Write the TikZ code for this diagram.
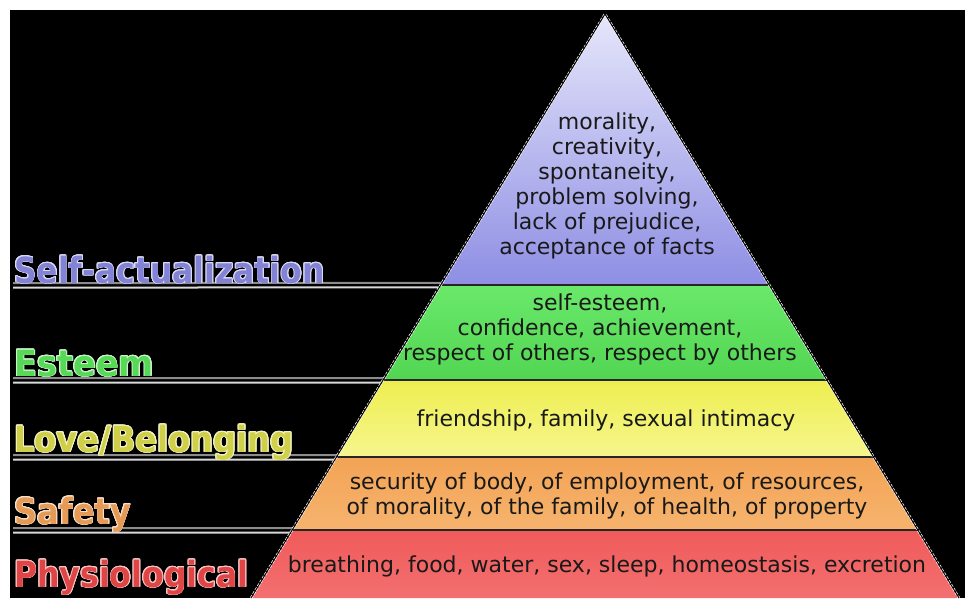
\documentclass[tikz,border=0pt]{standalone}
\usepackage{fontspec}
\setmainfont{DejaVu Sans}
\usepackage[copies]{contour}
\usetikzlibrary{calc}
\definecolor{lavtop}{HTML}{E6E6FB}
\definecolor{lavbot}{HTML}{8E8EE4}
\definecolor{greentop}{HTML}{6AE86A}
\definecolor{greenbot}{HTML}{52D652}
\definecolor{yeltop}{HTML}{EEEE50}
\definecolor{yelbot}{HTML}{F6F68E}
\definecolor{orgtop}{HTML}{F3A455}
\definecolor{orgbot}{HTML}{F6B36E}
\definecolor{redtop}{HTML}{F05A5A}
\definecolor{redbot}{HTML}{F37070}
\definecolor{cAct}{HTML}{8383D6}
\definecolor{cEst}{HTML}{57D957}
\definecolor{cLove}{HTML}{D0D048}
\definecolor{cSaf}{HTML}{E59A55}
\definecolor{cPhy}{HTML}{E04545}
\contourlength{0.9pt}
\tikzset{
  layertext/.style={align=center, text=black!90, font=\fontsize{22}{25}\selectfont},
  lbl/.style={anchor=base west, inner sep=0pt, font=\fontsize{36}{36}\selectfont\bfseries},
  sepline/.style={draw=black!85, line width=1.3pt},
  edgehalo/.style={draw=white, line width=2.4pt, dash pattern=on 3pt off 1.5pt},
  edgeline/.style={draw=black, line width=1pt},
  lineA/.style={draw=black!45, line width=2pt},
  lineB/.style={draw=black!15, line width=2pt}
}
\begin{document}
\begin{tikzpicture}[x=1pt,y=-1pt]
\useasboundingbox (0,0) rectangle (965,598);
\fill[white] (0,0) rectangle (965,598);
\fill[black] (10,10) rectangle (965,598);

\coordinate (A) at (605,14);
\coordinate (BL) at (251,598);
\coordinate (BR) at (959,598);
\coordinate (L1) at ($(A)!0.4640!(BL)$);
\coordinate (R1) at ($(A)!0.4640!(BR)$);
\coordinate (L2) at ($(A)!0.6267!(BL)$);
\coordinate (R2) at ($(A)!0.6267!(BR)$);
\coordinate (L3) at ($(A)!0.7586!(BL)$);
\coordinate (R3) at ($(A)!0.7586!(BR)$);
\coordinate (L4) at ($(A)!0.8836!(BL)$);
\coordinate (R4) at ($(A)!0.8836!(BR)$);

% label underlines
\coordinate (s1) at (13,285);
\coordinate (s2) at (13,380);
\coordinate (s3) at (13,457);
\coordinate (s4) at (13,530);
\foreach \s/\l in {s1/L1,s2/L2,s3/L3,s4/L4}{
  \draw[lineA] ([yshift=2pt]\s) -- ([xshift=4pt,yshift=2pt]\l);
  \draw[lineB] ([yshift=-2.5pt]\s) -- ([xshift=4pt,yshift=-2.5pt]\l);
}

% layers
\shade[top color=lavtop, bottom color=lavbot] (A) -- (R1) -- (L1) -- cycle;
\shade[top color=greentop, bottom color=greenbot] (L1) -- (R1) -- (R2) -- (L2) -- cycle;
\shade[top color=yeltop, bottom color=yelbot] (L2) -- (R2) -- (R3) -- (L3) -- cycle;
\shade[top color=orgtop, bottom color=orgbot] (L3) -- (R3) -- (R4) -- (L4) -- cycle;
\shade[top color=redtop, bottom color=redbot] (L4) -- (R4) -- (BR) -- (BL) -- cycle;

\draw[sepline] (L1) -- (R1);
\draw[sepline] (L2) -- (R2);
\draw[sepline] (L3) -- (R3);
\draw[sepline] (L4) -- (R4);

\draw[edgehalo] (BL) -- (A) -- (BR);
\draw[edgeline] (BL) -- (A) -- (BR);

% texts in the pyramid
\node[layertext] (t1) at (607,186) {morality,\\creativity,\\spontaneity,\\problem solving,\\lack of prejudice,\\acceptance of facts};
\node[layertext] (t2) at (600,329) {self-esteem,\\confidence, achievement,\\respect of others, respect by others};
\node[layertext] (t3) at (606,420) {friendship, family, sexual intimacy};
\node[layertext] (t4) at (607,496) {security of body, of employment, of resources,\\of morality, of the family, of health, of property};
\node[layertext] (t5) at (607,566) {breathing, food, water, sex, sleep, homeostasis, excretion};

% level labels
\node[lbl, text=cAct] (n1) at (14,283) {\scalebox{0.874}[1]{\contour{white!70!cAct}{Self-actualization}}};
\node[lbl, text=cEst] (n2) at (14,376) {\scalebox{0.934}[1]{\contour{white!70!cEst}{Esteem}}};
\node[lbl, text=cLove] (n3) at (14,452) {\scalebox{0.893}[1]{\contour{white!70!cLove}{Love/Belonging}}};
\node[lbl, text=cSaf] (n4) at (14,524) {\scalebox{0.893}[1]{\contour{white!70!cSaf}{Safety}}};
\node[lbl, text=cPhy] (n5) at (14,587) {\scalebox{0.876}[1]{\contour{white!70!cPhy}{Physiological}}};
\end{tikzpicture}
\end{document}
